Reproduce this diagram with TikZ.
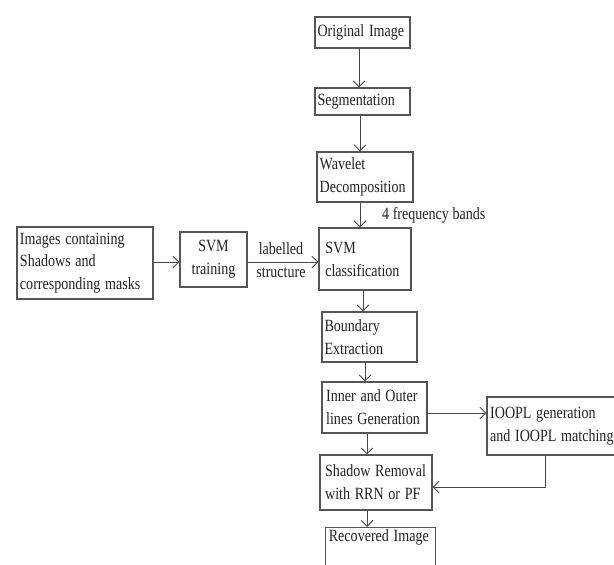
\documentclass[tikz,border=0pt]{standalone}
\usepackage{graphicx}
\usepackage{fontspec}
\setmainfont{Liberation Serif}
\usetikzlibrary{arrows.meta}
\definecolor{boxc}{HTML}{555555}
\definecolor{linec}{HTML}{474747}
\definecolor{txtc}{HTML}{222222}
\newcommand\vs[1]{\scalebox{1}[1.22]{#1}}
\hyphenpenalty=10000
\begin{document}
\begin{tikzpicture}[x=0.03cm,y=-0.03cm,
  box/.style={draw=boxc, line width=0.9pt, rectangle, inner xsep=2pt, inner ysep=0pt,
    align=left, font=\fontsize{12}{19.5}\selectfont, text=txtc},
  arr/.style={draw=linec, line width=0.8pt, -{Straight Barb[length=5pt,width=10pt]}},
  lbl/.style={font=\fontsize{12}{20}\selectfont, text=txtc, inner sep=0pt}]
\useasboundingbox (0,0) rectangle (614,565);
\clip (0,0) rectangle (614,565);
\fill[white] (0,0) rectangle (614,565);

% boxes
\node[box, minimum width=2.85cm, minimum height=0.93cm, text width=2.7cm] (orig) at (362.5,32.5) {\vs{Original Image}};
\node[box, minimum width=2.85cm, minimum height=0.81cm, text width=2.7cm] (seg) at (362.5,101.5) {\vs{Segmentation}};
\node[box, minimum width=2.88cm, minimum height=1.5cm, text width=2.72cm] (wav) at (365,177) {\vs{Wavelet}\\\vs{Decomposition}};
\node[box, minimum width=2.76cm, minimum height=1.86cm, inner xsep=0.18cm, text width=2.38cm] (svmc) at (365,259) {\vs{SVM}\\\vs{classification}};
\node[box, minimum width=2.85cm, minimum height=1.5cm, text width=2.7cm] (bnd) at (369.5,337) {\vs{Boundary}\\\vs{Extraction}};
\node[box, minimum width=3.15cm, minimum height=1.53cm, inner xsep=0.12cm, text width=2.9cm] (inner) at (374.5,407.5) {\vs{Inner and Outer}\\\vs{lines Generation}};
\node[box, minimum width=4.29cm, minimum height=1.74cm, inner xsep=0.09cm, text width=4.1cm] (ioopl) at (558.5,426) {\vs{IOOPL generation}\\\vs{and IOOPL matching}};
\node[box, minimum width=3.36cm, minimum height=1.65cm, inner xsep=0.15cm, text width=3.05cm] (shadow) at (376,482.5) {\vs{Shadow Removal}\\\vs{with RRN or PF}};
\node[box, anchor=north west, minimum width=3.3cm, inner xsep=0.09cm, text width=3.1cm, text height=0.42cm, text depth=1.3cm] (rec) at (325,527) {\vs{Recovered Image}};
\node[box, minimum width=4.08cm, minimum height=2.16cm, inner xsep=0.09cm, text width=3.9cm, font=\fontsize{12}{19}\selectfont] (images) at (85,263) {\vs{Images containing}\\\vs{Shadows and}\\\vs{corresponding masks}};
\node[box, minimum width=2.01cm, minimum height=1.65cm, align=center] (svmt) at (213.5,259.5) {\vs{SVM}\\\vs{training}};

% labels
\node[lbl, anchor=west] (fq) at (382,215) {\vs{4 frequency bands}};
\node[lbl, align=center] (ls) at (281,260) {\vs{labelled}\\\vs{structure}};

% spine coordinates
\coordinate (s1) at (359,0);
\coordinate (s2) at (360,0);
\coordinate (s3) at (360,0);
\coordinate (s4) at (363,0);
\coordinate (s5) at (365,0);
\coordinate (s6) at (367,0);
\coordinate (s7) at (367,0);
\coordinate (h1) at (0,262);
\coordinate (h2) at (0,413);
\coordinate (fb) at (545,487);

\draw[arr] (orig.south -| s1) -- (seg.north -| s1);
\draw[arr] (seg.south -| s2) -- (wav.north -| s2);
\draw[arr] (wav.south -| s3) -- (svmc.north -| s3);
\draw[arr] (svmc.south -| s4) -- (bnd.north -| s4);
\draw[arr] (bnd.south -| s5) -- (inner.north -| s5);
\draw[arr] (inner.south -| s6) -- (shadow.north -| s6);
\draw[arr] (shadow.south -| s7) -- (rec.north -| s7);

\draw[arr] (images.east |- h1) -- (svmt.west |- h1);
\draw[arr] (svmt.east |- h1) -- (svmc.west |- h1);
\draw[arr] (inner.east |- h2) -- (ioopl.west |- h2);
\draw[arr] (ioopl.south -| fb) |- (shadow.east |- fb);
\end{tikzpicture}
\end{document}
